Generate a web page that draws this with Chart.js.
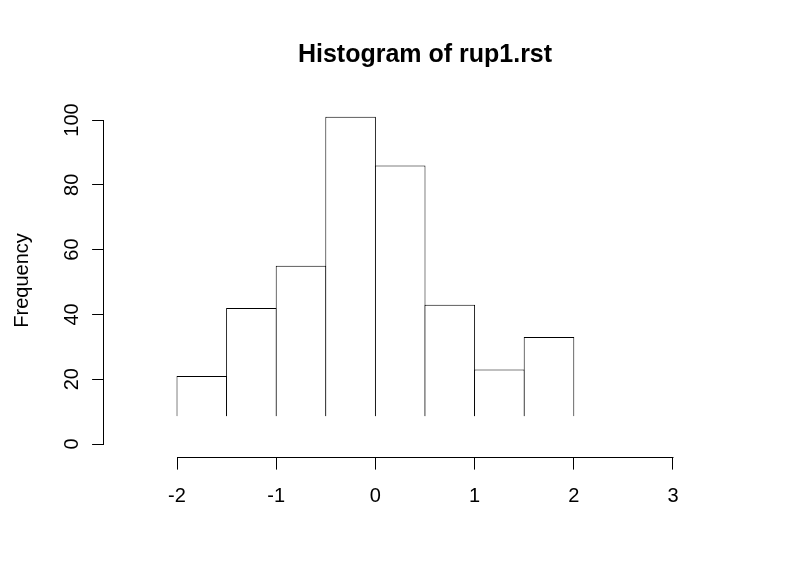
<!DOCTYPE html>
<html>
<head>
<meta charset="utf-8">
<script src="https://cdn.jsdelivr.net/npm/chart.js@4"></script>
<style>
  html, body { margin: 0; padding: 0; background: #fff; }
  #wrap { width: 800px; height: 585px; position: relative; }
</style>
</head>
<body>
<div id="wrap"><canvas id="c" width="800" height="585"></canvas></div>
<script>
// ---- data ----
const binEdges = [-2, -1.5, -1, -0.5, 0, 0.5, 1, 1.5, 2];
const counts = [21, 42, 55, 101, 86, 43, 23, 33];
const xTicks = [-2, -1, 0, 1, 2, 3];
const yTicks = [0, 20, 40, 60, 80, 100];
const barFloor = 8.6;          // bars in the picture stop here (no bottom edge)
const titleText = "Histogram of rup1.rst";
const yTitle = "Frequency";

// ---- build ----
const points = counts.map((c, i) => ({ x: (binEdges[i] + binEdges[i + 1]) / 2, y: c }));
const FONT = "'Liberation Sans', Arial, Helvetica, sans-serif";

const axisLines = {
  id: 'axisLines',
  afterDraw(chart) {
    const { ctx, chartArea, scales } = chart;
    const xs = scales.x, ys = scales.y;
    ctx.save();
    ctx.strokeStyle = '#000';
    ctx.lineWidth = 1;
    ctx.beginPath();
    const yb = Math.round(chartArea.bottom) + 0.5;
    ctx.moveTo(Math.round(xs.getPixelForValue(xTicks[0])) + 0.5, yb);
    ctx.lineTo(Math.round(xs.getPixelForValue(xTicks[xTicks.length - 1])) + 0.5, yb);
    const xl = Math.round(chartArea.left) - 0.5;
    ctx.moveTo(xl, Math.round(ys.getPixelForValue(yTicks[0])) + 0.5);
    ctx.lineTo(xl, Math.round(ys.getPixelForValue(yTicks[yTicks.length - 1])) + 0.5);
    ctx.stroke();
    ctx.restore();
  }
};

new Chart(document.getElementById('c'), {
  type: 'bar',
  data: {
    datasets: [{
      data: points,
      base: barFloor,
      backgroundColor: '#ffffff',
      borderColor: '#000000',
      borderWidth: 1,
      borderSkipped: 'bottom',
      barPercentage: 1.02,
      categoryPercentage: 1
    }]
  },
  options: {
    responsive: false,
    animation: false,
    devicePixelRatio: 1,
    layout: { padding: { left: 0, right: 53.6, top: 0, bottom: 0 } },
    plugins: {
      legend: { display: false },
      tooltip: { enabled: false },
      title: {
        display: true,
        text: titleText,
        fullSize: false,
        color: '#000',
        font: { family: FONT, size: 25, weight: 'bold', lineHeight: 1.2 },
        padding: { top: 40, bottom: 33.7 }
      }
    },
    scales: {
      x: {
        type: 'linear',
        min: -2.74,
        max: 3.74,
        offset: false,
        afterBuildTicks: s => { s.ticks = xTicks.map(v => ({ value: v })); },
        afterFit: s => { s.height = 127.9; },
        border: { display: false },
        grid: { offset: false, drawOnChartArea: false, drawTicks: true, tickLength: 12.5, color: '#000', lineWidth: 1 },
        ticks: {
          autoSkip: false, maxRotation: 0, minRotation: 0,
          color: '#000', padding: 15,
          font: { family: FONT, size: 20 },
          callback: v => String(v)
        }
      },
      y: {
        type: 'linear',
        min: -4.04,
        max: 105.04,
        afterBuildTicks: s => { s.ticks = yTicks.map(v => ({ value: v })); },
        afterFit: s => { s.width = 103.6; },
        border: { display: false },
        grid: { drawOnChartArea: false, drawTicks: true, tickLength: 11.5, color: '#000', lineWidth: 1 },
        ticks: {
          autoSkip: false, minRotation: 90, maxRotation: 90, crossAlign: 'center',
          color: '#000', padding: 3,
          font: { family: FONT, size: 20 },
          callback: v => String(v)
        },
        title: {
          display: true,
          text: yTitle,
          color: '#000',
          font: { family: FONT, size: 20 },
          padding: { top: 10, bottom: 0 }
        }
      }
    }
  },
  plugins: [axisLines]
});
</script>
</body>
</html>
